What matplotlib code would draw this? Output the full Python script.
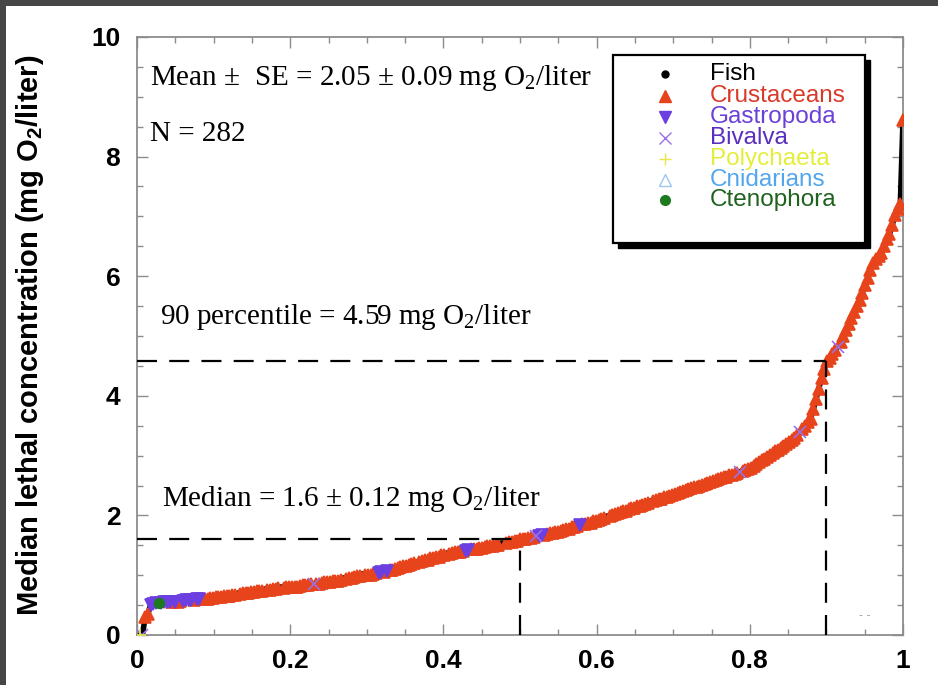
import matplotlib
matplotlib.use('Agg')
import matplotlib.pyplot as plt
import numpy as np
from matplotlib.patches import Rectangle
from matplotlib.ticker import MultipleLocator

plt.rcParams['mathtext.fontset'] = 'custom'
plt.rcParams['mathtext.rm'] = 'Liberation Serif'
plt.rcParams['mathtext.bf'] = 'Liberation Sans:bold'

# LC50 per species, sorted (mg O2/liter)
lc50 = [
    0.00, 0.00, 0.30, 0.35, 0.50, 0.52, 0.53, 0.54, 0.54, 0.55, 0.55, 0.55, 0.56, 0.56,
    0.56, 0.57, 0.57, 0.58, 0.58, 0.59, 0.59, 0.60, 0.60, 0.60, 0.61, 0.61, 0.62, 0.62,
    0.63, 0.63, 0.64, 0.65, 0.65, 0.66, 0.67, 0.67, 0.68, 0.69, 0.70, 0.70, 0.71, 0.72,
    0.72, 0.73, 0.73, 0.74, 0.75, 0.75, 0.76, 0.77, 0.77, 0.78, 0.78, 0.79, 0.80, 0.80,
    0.80, 0.81, 0.81, 0.82, 0.83, 0.83, 0.84, 0.85, 0.85, 0.86, 0.86, 0.87, 0.88, 0.88,
    0.89, 0.90, 0.90, 0.91, 0.92, 0.93, 0.94, 0.95, 0.96, 0.97, 0.98, 0.99, 1.00, 1.00,
    1.00, 1.01, 1.02, 1.03, 1.04, 1.05, 1.06, 1.07, 1.08, 1.09, 1.10, 1.12, 1.13, 1.15,
    1.16, 1.17, 1.19, 1.20, 1.21, 1.22, 1.24, 1.25, 1.26, 1.28, 1.29, 1.30, 1.31, 1.33,
    1.34, 1.35, 1.36, 1.37, 1.38, 1.38, 1.39, 1.40, 1.41, 1.42, 1.43, 1.43, 1.44, 1.45,
    1.46, 1.47, 1.48, 1.48, 1.49, 1.50, 1.51, 1.52, 1.53, 1.54, 1.55, 1.56, 1.57, 1.58,
    1.60, 1.60, 1.61, 1.62, 1.63, 1.64, 1.65, 1.66, 1.67, 1.68, 1.69, 1.70, 1.71, 1.72,
    1.73, 1.74, 1.76, 1.77, 1.78, 1.80, 1.81, 1.82, 1.84, 1.85, 1.86, 1.87, 1.88, 1.90,
    1.91, 1.93, 1.94, 1.96, 1.97, 1.99, 2.00, 2.02, 2.04, 2.05, 2.07, 2.08, 2.10, 2.12,
    2.13, 2.15, 2.16, 2.18, 2.19, 2.21, 2.22, 2.24, 2.25, 2.27, 2.28, 2.30, 2.31, 2.33,
    2.34, 2.36, 2.37, 2.39, 2.40, 2.42, 2.44, 2.45, 2.47, 2.48, 2.50, 2.51, 2.53, 2.55,
    2.56, 2.58, 2.59, 2.61, 2.62, 2.64, 2.65, 2.67, 2.68, 2.70, 2.71, 2.73, 2.75, 2.76, 2.78,
    2.80, 2.83, 2.86, 2.89, 2.92, 2.95, 2.98, 3.01, 3.04, 3.07, 3.10, 3.13, 3.16, 3.19,
    3.22, 3.26, 3.30, 3.35, 3.40, 3.45, 3.50, 3.56,
    3.62, 3.78, 3.95, 4.12, 4.30, 4.45, 4.59,
    4.64, 4.70, 4.76, 4.82, 4.90,
    5.00, 5.10, 5.20, 5.30, 5.40, 5.50,
    5.60, 5.72, 5.85, 5.97, 6.10, 6.22,
    6.28, 6.33, 6.39, 6.50, 6.62,
    6.70, 6.85, 7.02, 7.12, 7.20,
    8.61,
]

# taxon code of each species in the same order
taxa = ''.join([
    "PBCCGGGTGGGGCG", "CCGGGGCGGCCCCC", "CCCCCCCCFCCCCC", "CCCCFCCCCCFCCC",
    "CCCCCCCCBCCCCC", "CCCCCFCCCCCCFC", "CCCCGGCGCCCCCC", "CCCCFCCCCCCCCC",
    "CFCCCCCCGGCCCC", "CCCCCCCFFCCCCC", "CCCCCCBGGCCCCC", "CCCCCCCCGCCCCC",
    "CCCCFCCCCCCCCC", "CCCCCCFCCCCCCC", "CCCCCCCCCCCCCC", "CCCCCCCCCCCBCCC",
    "CCCCCCCCCCCCCC", "CCCCBCCC", "CCCCCCC", "CCCBC", "CCCCCC", "CCCCCC",
    "CCCCC", "CCCCC", "C",
])

groups = ['Fish', 'Crustaceans', 'Gastropoda', 'Bivalva', 'Polychaeta',
          'Cnidarians', 'Ctenophora']
codes = ['F', 'C', 'G', 'B', 'P', 'N', 'T']
markers = ['o', '^', 'v', 'x', '+', '^', 'o']
mcolors = ['black', '#e8441c', '#6b3fe0', '#9b70e6', '#e6e64a', '#9cc6f0', '#1e7a1e']
tcolors = ['black', '#d83a2a', '#6a40d8', '#5a2ebe', '#e4ee3a', '#52a6ee', '#1e621e']
msizes = [5, 9, 9, 9, 9, 8, 7]
filled = [True, True, True, True, True, False, True]

median = 1.6
p90 = 4.59

y = np.array(lc50)
n = len(y)
x = np.arange(1, n + 1) / n
t = np.array(list(taxa))

fig = plt.figure(figsize=(9.38, 6.85), dpi=100)
ax = fig.add_axes([137/938, 50/685, 766/938, 598/685])

ax.plot(x, y, color='black', lw=4, zorder=2, solid_capstyle='round')
for code, m, c, ms, f in zip(codes, markers, mcolors, msizes, filled):
    sel = t == code
    if not sel.any():
        continue
    ax.plot(x[sel], y[sel], ls='none', marker=m, ms=ms, color=c,
            mfc=c if f else 'none', mew=1.2, zorder=3)

# percentile guides
dash = dict(color='black', lw=1.6, dashes=(9, 5.5), zorder=4)
ax.plot([0, 0.9], [p90, p90], **dash)
ax.plot([0.9, 0.9], [0, p90], **dash)
ax.plot([0, 0.5], [median, median], **dash)
ax.plot([0.5, 0.5], [0, median], **dash)

serif = dict(family='Liberation Serif', fontsize=21, va='center', ha='left', zorder=6)
ax.text(0.017, 9.31, r'Mean ±  SE = 2.05 ± 0.09 mg O$_2$/liter', **serif)
ax.text(0.017, 8.38, 'N = 282', **serif)
ax.text(0.030, 5.32, r'90 percentile = 4.59 mg O$_2$/liter', **serif)
ax.text(0.033, 2.27, r'Median = 1.6 ± 0.12 mg O$_2$/liter', **serif)
ax.text(0.95, 0.33, '- -', color='#999999', fontsize=8, ha='center', va='center')

# legend box with solid drop shadow
lx, ly, lw_, lh = 0.6214, 0.6555, 0.329, 0.3144
ax.add_patch(Rectangle((lx + 0.0062, ly - 0.008), lw_, lh, transform=ax.transAxes,
                       facecolor='black', edgecolor='black', zorder=7))
ax.add_patch(Rectangle((lx, ly), lw_, lh, transform=ax.transAxes,
                       facecolor='white', edgecolor='black', lw=1.6, zorder=8))
rows = [0.938, 0.9013, 0.8662, 0.8311, 0.796, 0.7609, 0.7274]
for ry, g, m, c, tc, ms, f in zip(rows, groups, markers, mcolors, tcolors, msizes, filled):
    ax.plot([0.6893], [ry], transform=ax.transAxes, ls='none', marker=m,
            ms=min(ms, 8), color=c, mfc=c if f else 'none', mew=1.0, zorder=9,
            clip_on=False)
    ax.text(0.748, ry, g, transform=ax.transAxes, color=tc, fontsize=17.5,
            family='Liberation Sans', va='center', ha='left', zorder=9)

ax.set_xlim(0, 1)
ax.set_ylim(0, 10)
ax.xaxis.set_major_locator(MultipleLocator(0.2))
ax.xaxis.set_minor_locator(MultipleLocator(0.05))
ax.yaxis.set_major_locator(MultipleLocator(2))
ax.yaxis.set_minor_locator(MultipleLocator(0.5))
ax.set_xticks([0, 0.2, 0.4, 0.6, 0.8, 1.0])
ax.set_xticklabels(['0', '0.2', '0.4', '0.6', '0.8', '1'])
ax.set_yticks([0, 2, 4, 6, 8, 10])
ax.set_yticklabels(['0', '2', '4', '6', '8', '10'])
ax.tick_params(which='both', direction='in', top=True, right=True,
               color='#8c8c8c', width=1)
ax.tick_params(which='major', length=8)
ax.tick_params(which='minor', length=4.5)
ax.tick_params(axis='x', pad=10)
ax.tick_params(axis='y', pad=12)
for lab in ax.get_xticklabels() + ax.get_yticklabels():
    lab.set_fontfamily('Liberation Sans')
    lab.set_fontweight('bold')
    lab.set_fontsize(19)
for sp in ax.spines.values():
    sp.set_color('#8c8c8c')
    sp.set_linewidth(1.3)

fig.text(30/938, 0.511, r'Median lethal concentration (mg O$_\mathbf{2}$/liter)',
         rotation=90, ha='center', va='center', fontsize=21, fontweight='bold',
         family='Liberation Sans')

# dark border along top and left edges
fig.patches.append(Rectangle((0, 1 - 6/685), 1, 6/685, transform=fig.transFigure,
                             facecolor='#464646', edgecolor='none'))
fig.patches.append(Rectangle((0, 0), 6/938, 1, transform=fig.transFigure,
                             facecolor='#464646', edgecolor='none'))

fig.savefig('out.png', dpi=100)
